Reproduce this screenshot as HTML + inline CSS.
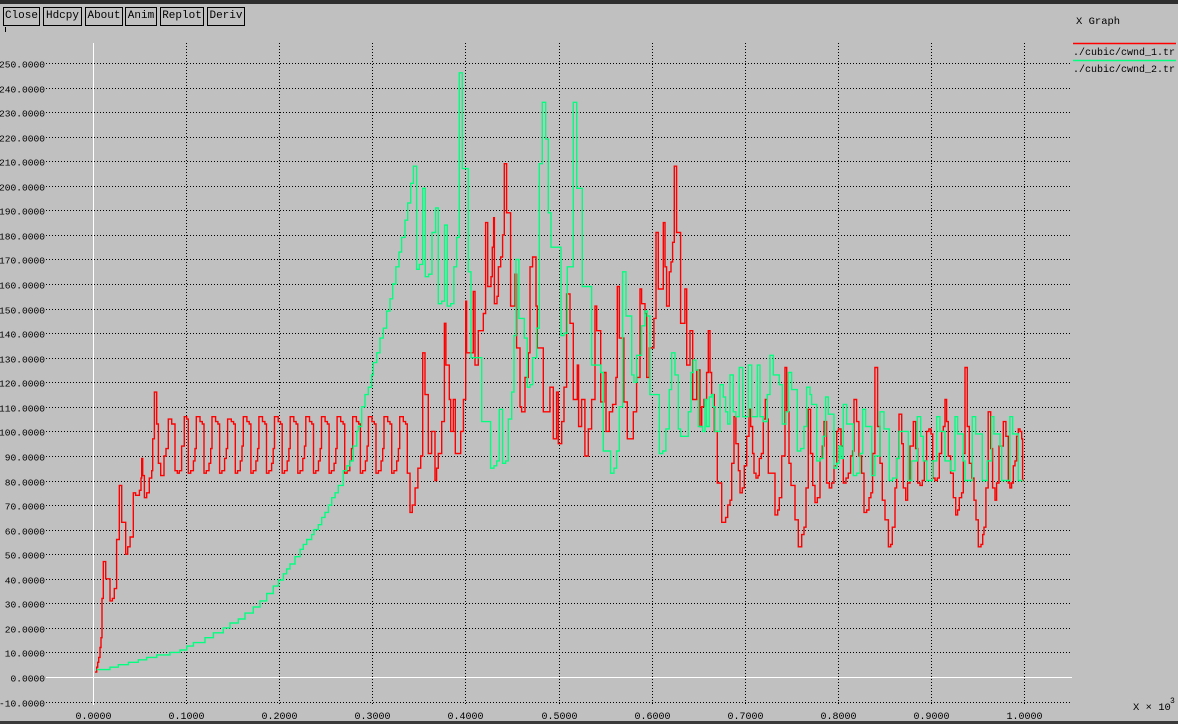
<!DOCTYPE html>
<html>
<head>
<meta charset="utf-8">
<style>
html,body{margin:0;padding:0;background:#c0c0c0;}
body{width:1178px;height:724px;overflow:hidden;position:relative;font-family:"Liberation Mono","DejaVu Sans Mono",monospace;}
.btn{position:absolute;top:7px;height:19px;border:1px solid #000;box-sizing:border-box;font-size:11px;line-height:17px;text-align:center;color:#000;background:#c0c0c0;}
</style>
</head>
<body>
<div style="position:absolute;left:0;top:0;width:1178px;height:4px;background:#2e2e2e;"></div>
<div style="position:absolute;left:0;top:721px;width:1178px;height:3px;background:#3a3a3a;"></div>
<div class="btn" style="left:3px;width:37px;">Close</div>
<div class="btn" style="left:43px;width:39px;">Hdcpy</div>
<div class="btn" style="left:85px;width:38px;">About</div>
<div class="btn" style="left:125px;width:32px;">Anim</div>
<div class="btn" style="left:160px;width:44px;">Replot</div>
<div class="btn" style="left:207px;width:38px;">Deriv</div>
<svg id="chart" width="1178" height="724" style="position:absolute;left:0;top:0;" xmlns="http://www.w3.org/2000/svg"></svg>
<script>
const yTicks=[-10,0,10,20,30,40,50,60,70,80,90,100,110,120,130,140,150,160,170,180,190,200,210,220,230,240,250];
const xTicks=[0,0.1,0.2,0.3,0.4,0.5,0.6,0.7,0.8,0.9,1.0];
const seriesNames=["./cubic/cwnd_1.tr","./cubic/cwnd_2.tr"];
const cwnd1=[[0.0022,2],[0.004,4],[0.005,6],[0.0061,8],[0.0075,12],[0.0086,16],[0.0097,32],[0.0111,47],[0.0136,40],[0.0183,31],[0.0208,32],[0.0229,36],[0.0254,56],[0.0283,78],[0.0308,63],[0.0351,50],[0.0373,53],[0.0398,57],[0.0433,75],[0.0458,74],[0.0498,76],[0.0516,81],[0.0523,89],[0.0534,82],[0.0552,73],[0.0577,75],[0.0605,81],[0.063,84],[0.0641,97],[0.0659,116],[0.0684,103],[0.0702,87],[0.0727,82],[0.0763,90],[0.0784,93],[0.0809,105],[0.0845,103],[0.0881,84],[0.0906,83],[0.0927,84],[0.0952,94],[0.0981,106],[0.1006,105],
[0.1024,83],[0.1049,84],[0.1078,88],[0.1096,93],[0.111,106],[0.1149,104],[0.1174,103],
[0.1192,83],[0.1217,84],[0.1246,87],[0.1264,93],[0.1278,106],[0.1317,104],[0.1342,103],
[0.136,83],[0.1385,84],[0.1414,89],[0.1432,93],[0.1446,105],[0.1485,104],[0.151,103],
[0.1528,83],[0.1553,84],[0.1582,88],[0.16,94],[0.1614,106],[0.1653,104],[0.1678,103],
[0.1696,83],[0.1721,84],[0.175,88],[0.1768,93],[0.1782,106],[0.1821,104],[0.1846,103],
[0.1864,83],[0.1889,84],[0.1918,87],[0.1936,93],[0.195,106],[0.1989,104],[0.2014,103],
[0.2032,83],[0.2057,84],[0.2086,88],[0.2104,93],[0.2118,106],[0.2157,104],[0.2182,103],
[0.22,83],[0.2225,84],[0.2254,89],[0.2272,94],[0.2286,106],[0.2325,104],[0.235,103],
[0.2368,83],[0.2393,84],[0.2422,88],[0.244,93],[0.2454,106],[0.2493,104],[0.2518,103],
[0.2536,83],[0.2561,84],[0.259,87],[0.2608,93],[0.2622,106],[0.2661,104],[0.2686,103],
[0.2704,83],[0.2729,84],[0.2758,88],[0.2776,93],[0.279,106],[0.2829,104],[0.2854,103],
[0.2872,83],[0.2897,84],[0.2926,88],[0.2944,94],[0.2958,106],[0.2997,104],[0.3022,103],
[0.304,83],[0.3065,84],[0.3094,88],[0.3112,93],[0.3126,106],[0.3165,104],[0.319,103],
[0.3208,83],[0.3233,84],[0.3262,88],[0.328,93],[0.3294,106],[0.3333,104],[0.3358,103],
[0.3376,83],[0.3405,67],[0.343,70],[0.346,77],[0.349,85],[0.352,90],
[0.3541,132],[0.3566,115],[0.3602,91],[0.3637,100],[0.3673,80],[0.3691,85],[0.3709,91],[0.3745,104],[0.3774,144],[0.3791,127],[0.3827,113],[0.3842,100],[0.387,113],[0.3892,91],[0.3949,100],[0.3978,113],[0.4003,153],[0.4013,132],[0.4085,157],[0.4103,127],[0.4139,141],[0.4192,148],[0.4217,185],[0.4239,159],[0.4275,163],[0.4289,175],[0.4303,187],[0.4311,152],[0.4339,155],[0.4354,167],[0.4379,171],[0.44,180],[0.4418,209],[0.4443,189],[0.4486,151],[0.4533,164],[0.455,134],[0.4586,110],[0.4604,108],[0.464,122],[0.4676,132],[0.4694,167],[0.4722,171],[0.4758,151],[0.4772,134],[0.4837,108],[0.4908,118],[0.4944,97],[0.498,116],[0.4998,95],[0.5034,104],[0.5059,118],[0.5087,156],[0.5123,144],[0.5159,113],[0.5202,127],[0.5216,102],[0.5248,113],[0.5284,90],[0.532,101],[0.5356,113],[0.5392,151],[0.541,141],[0.5453,112],[0.5488,124],[0.551,100],[0.5546,108],[0.5581,111],[0.5617,122],[0.5632,159],[0.5653,138],[0.5703,112],[0.5739,97],[0.5803,108],[0.5839,122],[0.5875,158],[0.5893,152],[0.5929,148],[0.5947,122],[0.5975,134],[0.6025,146],[0.6047,181],[0.6072,158],[0.6126,185],[0.6144,167],[0.6161,151],[0.619,165],[0.6208,169],[0.6226,177],[0.6244,208],[0.6269,181],[0.6312,144],[0.6358,158],
[0.6377,127],[0.6412,141],[0.6441,113],[0.6484,125],[0.652,102],[0.6538,110],[0.6563,113],[0.6591,124],[0.6609,141],[0.6627,124],[0.6645,115],[0.6674,100],[0.6706,79],[0.6753,63],[0.6795,65],[0.6817,70],[0.6842,72],[0.686,87],[0.6885,106],[0.6906,95],[0.6932,84],[0.6949,75],[0.6974,77],[0.6996,86],[0.7021,98],[0.7046,109],[0.7064,102],[0.7085,91],[0.71,83],[0.7121,81],[0.7143,82],[0.7157,89],[0.7179,91],[0.72,105],[0.7221,113],[0.7243,105],[0.7254,83],[0.7325,66],[0.7354,68],[0.7372,73],[0.7397,90],[0.7433,126],[0.7451,108],[0.7476,87],[0.7497,78],[0.754,64],[0.7576,53],[0.7612,58],[0.7637,61],[0.7658,77],[0.7683,109],[0.7708,91],[0.773,78],[0.7755,71],[0.778,73],[0.7809,89],[0.7834,94],[0.7852,104],[0.788,79],[0.7909,77],[0.7934,79],[0.7959,86],[0.7988,100],[0.8006,101],[0.8034,94],[0.8059,79],[0.8088,81],[0.8113,83],[0.8138,90],[0.8159,92],[0.8174,113],[0.8202,104],[0.8227,90],[0.8256,83],[0.8281,67],[0.831,68],[0.8335,73],[0.8356,75],[0.8374,91],[0.8399,126],[0.8428,102],[0.8453,87],[0.8478,72],[0.8507,64],[0.8543,53],[0.8568,54],[0.8585,61],[0.8614,77],[0.8632,89],[0.8657,107],[0.8686,95],[0.8704,77],[0.8729,72],[0.875,79],[0.8775,94],[0.8811,104],[0.8836,93],[0.8858,79],[0.8883,78],[0.8908,80],[0.8929,88],[0.8954,100],[0.8979,101],[0.9001,99],[0.9019,81],[0.9044,80],[0.9069,81],[0.909,91],[0.9115,100],[0.9133,102],[0.9151,113],[0.9169,104],[0.9187,90],[0.9212,83],[0.9241,73],[0.9266,66],[0.9287,68],[0.9305,73],[0.933,75],[0.9348,91],[0.9366,126],[0.9391,102],[0.9412,87],[0.9438,81],[0.9463,72],[0.9484,64],[0.9509,53],[0.9538,54],[0.9556,58],[0.957,61],[0.9591,77],[0.9616,108],[0.9642,93],[0.9663,77],[0.9688,72],[0.9706,79],[0.9731,94],[0.9778,104],[0.9806,98],[0.9831,79],[0.9849,77],[0.9867,79],[0.9885,86],[0.9903,88],[0.9921,98],[0.9939,101],[0.9957,100],[0.9975,97],[0.9985,80],[1.0,80]];
const cwnd2=[[0.0039,3],[0.0183,4],[0.0272,5],[0.038,6],[0.0487,7],[0.0576,8],[0.0684,9],[0.0827,10],[0.0934,11],[0.1006,12.6],[0.1078,14],[0.1203,16],[0.1293,18],[0.14,20],[0.1472,22],[0.1561,23.6],[0.1633,26],[0.1722,28.5],[0.1794,31],[0.1866,34],[0.1937,37],[0.1991,39.5],[0.2045,42],[0.208,44],[0.2116,46],[0.217,49],[0.2224,52],[0.2259,54],[0.2295,56],[0.2349,58],[0.2374,60],[0.242,62],[0.2456,65],[0.2492,67],[0.2528,70],[0.2564,73],[0.26,75],[0.2635,78],
[0.2689,84],[0.2725,86],[0.276,88],[0.2796,94],[0.2832,100],[0.285,102],[0.2886,110],[0.2922,115],[0.2957,118],[0.2993,123],[0.3011,128],[0.3047,132],[0.3083,138],[0.3118,142],[0.3154,149],[0.319,154],[0.3219,160],[0.3254,167],[0.3287,173],[0.3315,179],[0.3351,186],[0.338,193],[0.3412,201],[0.3441,208],[0.3476,166],[0.3505,168],[0.3541,199],[0.3569,163],[0.3605,164],[0.3641,181],[0.368,191],[0.3709,152],[0.3745,153],[0.3777,184],[0.3806,151],[0.3842,152],[0.3877,167],[0.3906,179],[0.3935,246],[0.3967,207],[0.4031,165],[0.406,130],[0.4175,104],[0.4271,85],[0.4307,86],[0.4336,88],[0.4364,109],[0.44,87],[0.4432,88],[0.4461,105],[0.4497,116],[0.4522,139],[0.4543,170],[0.4575,146],[0.4633,138],[0.4665,118],[0.4694,119],[0.4722,130],[0.4765,142],[0.4794,209],[0.4826,234],[0.4862,219],[0.489,189],[0.4919,175],[0.5027,139],[0.5059,140],[0.5095,167],[0.5159,234],[0.5195,199],[0.5256,159],[0.5356,127],[0.5453,124],[0.5481,92],[0.556,83],[0.5596,85],[0.5624,92],[0.5653,110],[0.5689,165],[0.5725,147],[0.5786,123],[0.5811,120],[0.5839,131],[0.5893,143],[0.5929,149],[0.5954,147],[0.5982,115],[0.6083,91],[0.6119,92],[0.6154,101],[0.619,117],[0.6215,132],[0.6251,123],[0.6287,101],[0.6312,98],[0.6394,108],
[0.6423,124],[0.6448,129],[0.6477,125],[0.6502,102],[0.6548,100],[0.6574,113],[0.6591,102],[0.662,114],[0.6645,115],[0.6663,110],[0.6681,100],[0.6735,119],[0.677,114],[0.6795,108],[0.6817,103],[0.6842,123],[0.6878,108],[0.6906,106],[0.6942,126],[0.6978,106],[0.7039,127],[0.7075,106],[0.7136,127],[0.7164,106],[0.72,104],[0.7243,115],[0.7272,131],[0.7307,123],[0.7372,119],[0.7404,103],[0.7443,108],[0.7469,124],[0.7504,117],[0.7565,92],[0.7601,93],[0.7637,102],[0.7665,118],[0.7701,115],[0.7719,111],[0.7773,88],[0.7809,89],[0.7844,98],[0.7869,114],[0.7898,107],[0.7959,85],[0.7988,87],[0.8013,94],[0.8034,89],[0.8059,111],[0.8095,103],[0.8167,82],[0.8202,83],[0.8238,91],[0.8267,109],[0.8299,102],[0.8364,82],[0.8399,90],[0.8453,108],[0.8496,101],[0.8553,80],[0.8589,81],[0.8632,89],[0.8661,100],[0.8757,80],[0.8793,88],[0.8854,106],[0.889,98],[0.8918,88],[0.8954,80],[0.9015,88],[0.9062,106],[0.9097,100],[0.9151,88],[0.9212,84],[0.9259,106],[0.9287,99],[0.9348,88],[0.9366,80],[0.9445,106],[0.9481,99],[0.9552,80],[0.9606,88],[0.9652,106],[0.9677,99],[0.9742,94],[0.976,80],[0.9849,106],[0.9878,99],[0.9939,80],[0.999,80]];

const svg=document.getElementById('chart');
const NS='http://www.w3.org/2000/svg';
const X0=93, XS=931, Y0=677, YS=2.456;
function sx(v){return X0+v*XS;}
function sy(v){return Y0-v*YS;}
function mk(tag,attrs,parent){const e=document.createElementNS(NS,tag);for(const k in attrs)e.setAttribute(k,attrs[k]);(parent||svg).appendChild(e);return e;}

yTicks.forEach(function(v){
  const y=Math.round(sy(v))+0.5;
  const ln=mk('line',{x1:46,x2:1072,y1:y,y2:y,stroke:v===0?'#ffffff':'#000',
    'stroke-width':1,'stroke-dasharray':v===0?'none':'1,2'});
  
  
  const t=mk('text',{x:45,y:y+4,'text-anchor':'end','font-size':'9.6',fill:'#000','font-family':'Liberation Mono, monospace'});
  
  
  t.textContent=v.toFixed(4);
});
xTicks.forEach(function(v){
  const x=Math.round(sx(v))+0.5;
  const ln=mk('line',{x1:x,x2:x,y1:43,y2:705,stroke:v===0?'#ffffff':'#000','stroke-width':1,'stroke-dasharray':v===0?'none':'1,2'});
  
  
  const t=mk('text',{x:x,y:719,'text-anchor':'middle','font-size':'10',fill:'#000','font-family':'Liberation Mono, monospace'});
  
  
  t.textContent=v.toFixed(4);
});
function stepPath(pts){
  let d='M'+sx(pts[0][0]).toFixed(1)+','+sy(pts[0][1]).toFixed(1);
  for(let i=1;i<pts.length;i++){
    d+=' H'+sx(pts[i][0]).toFixed(1)+' V'+sy(pts[i][1]).toFixed(1);
  }
  return d;
}
const p1=mk('path',{d:stepPath(cwnd1),fill:'none',stroke:'#ff0000','stroke-width':1.4});


const p2=mk('path',{d:stepPath(cwnd2),fill:'none',stroke:'#00ff7f','stroke-width':1.4});



const tt=mk('text',{x:1076,y:24,'font-size':'10.5',fill:'#000','font-family':'Liberation Mono, monospace'});


tt.textContent='X Graph';
const colors=['#ff0000','#00ff7f'];
seriesNames.forEach(function(n,i){
  const y=43+i*17;
  const l=mk('line',{x1:1073,x2:1176,y1:y+0.5,y2:y+0.5,stroke:colors[i],'stroke-width':1.5});
  
  
  const t=mk('text',{x:1073,y:y+12,'font-size':'10',fill:'#000','font-family':'Liberation Mono, monospace'});
  
  
  t.textContent=n;
});
const xl=mk('text',{x:1133,y:710,'font-size':'10.5',fill:'#000','font-family':'Liberation Mono, monospace'});


xl.textContent='X \u00d7 10';
const sup=mk('text',{x:1170,y:703,'font-size':'8',fill:'#000','font-family':'Liberation Mono, monospace'});


sup.textContent='3';
const tk=mk('line',{x1:5.5,x2:5.5,y1:27,y2:32,stroke:'#000','stroke-width':1});


</script>
</body>
</html>
